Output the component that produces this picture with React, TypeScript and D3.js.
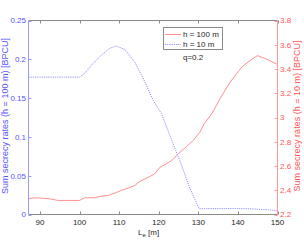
import React from "react";
import * as d3 from "d3";

const xTicks = [90, 100, 110, 120, 130, 140, 150];
const leftTicks = [0, 0.05, 0.1, 0.15, 0.2, 0.25];
const rightTicks = [2.2, 2.4, 2.6, 2.8, 3, 3.2, 3.4, 3.6, 3.8];

const blueX = [87.1, 100, 101.5, 103, 105.5, 107.6, 109.3, 111.4, 113.9, 116.5, 118.6, 120.7, 122.8, 125.3, 127.9, 130.2, 135, 140, 143, 147.7, 150];
const blueY = [0.177, 0.177, 0.183, 0.1925, 0.2054, 0.2141, 0.217, 0.2128, 0.1968, 0.171, 0.147, 0.13, 0.102, 0.0698, 0.0332, 0.0074, 0.0076, 0.0076, 0.0074, 0.006, 0.005];

const redX = [87.1, 88.6, 90, 92.4, 94.5, 97, 100, 101.3, 103.8, 105.1, 107.2, 108.9, 110.6, 112.5, 114, 115.2, 117, 119, 120.3, 121.5, 123.3, 125.4, 127, 128.7, 130.4, 131.5, 133.4, 135.5, 138, 141, 143.1, 144.9, 146.9, 149.8];
const redY = [2.33, 2.338, 2.335, 2.33, 2.316, 2.316, 2.316, 2.338, 2.338, 2.35, 2.357, 2.376, 2.4, 2.42, 2.44, 2.473, 2.5, 2.536, 2.59, 2.61, 2.646, 2.715, 2.76, 2.81, 2.88, 2.95, 3.03, 3.156, 3.29, 3.417, 3.47, 3.51, 3.487, 3.44];

const legendLabels = ["h = 100 m", "h = 10 m"];
const annotation = "q=0.2";

export default function App() {
  const W = 304, H = 243;
  const L = 28.5, R = 277.5, T = 20.5, B = 214.5;
  const x = d3.scaleLinear().domain([87.1, 150]).range([L, R]);
  const yL = d3.scaleLinear().domain([0, 0.25]).range([B, T]);
  const yR = d3.scaleLinear().domain([2.2, 3.8]).range([B, T]);

  const blueLine = d3.line<number>().x((_, i) => x(blueX[i])).y((d) => yL(d))(blueY) || "";
  const redLine = d3.line<number>().x((_, i) => x(redX[i])).y((d) => yR(d))(redY) || "";

  const font = "'Liberation Sans', Arial, Helvetica, sans-serif";
  const blueAxis = "#9a9aff", blueText = "#5555ff";
  const redAxis = "#ff9a9a", redText = "#ff5555";
  const blueLineC = "#9090ff", redLineC = "#ff9090";
  const gray = "#8a8a8a", dark = "#262626";
  const fmtL = (v: number) => String(+v.toFixed(2));
  const fmtR = (v: number) => String(+v.toFixed(1));

  return (
    <svg width={W} height={H} style={{ position: "absolute", left: 0, top: 0, background: "#fff" }} fontFamily={font}>
      <rect x={0} y={0} width={W} height={H} fill="#fff" />
      <path d={redLine} fill="none" stroke={redLineC} strokeWidth={1} />
      <path d={blueLine} fill="none" stroke={blueLineC} strokeWidth={1} strokeDasharray="1.2,1" />
      <line x1={L} x2={R} y1={T} y2={T} stroke={gray} strokeWidth={1} />
      <line x1={L} x2={R} y1={B} y2={B} stroke={gray} strokeWidth={1} />
      <line x1={L} x2={L} y1={T} y2={B} stroke={blueAxis} strokeWidth={1} />
      <line x1={R} x2={R} y1={T} y2={B} stroke={redAxis} strokeWidth={1} />
      {xTicks.map((t) => (
        <g key={"x" + t}>
          <line x1={Math.round(x(t)) + 0.5} x2={Math.round(x(t)) + 0.5} y1={B} y2={B - 3} stroke={gray} />
          <line x1={Math.round(x(t)) + 0.5} x2={Math.round(x(t)) + 0.5} y1={T} y2={T + 3} stroke={gray} />
          <text x={x(t)} y={225} fontSize={8} textAnchor="middle" fill={dark}>{t}</text>
        </g>
      ))}
      {leftTicks.map((t) => (
        <g key={"l" + t}>
          <line x1={L} x2={L + 3} y1={Math.round(yL(t)) + 0.5} y2={Math.round(yL(t)) + 0.5} stroke={blueAxis} />
          <text x={26} y={yL(t)} dy="0.35em" fontSize={8} textAnchor="end" fill={blueText}>{fmtL(t)}</text>
        </g>
      ))}
      {rightTicks.map((t) => (
        <g key={"r" + t}>
          <line x1={R} x2={R - 3} y1={Math.round(yR(t)) + 0.5} y2={Math.round(yR(t)) + 0.5} stroke={redAxis} />
          <text x={280} y={yR(t)} dy="0.35em" fontSize={8} textAnchor="start" fill={redText}>{fmtR(t)}</text>
        </g>
      ))}
      <text transform={`translate(7.5,${116}) rotate(-90)`} fontSize={9} textAnchor="middle" fill={blueText}>
        Sum secrecy rates (h = 100 m) [BPCU]
      </text>
      <text transform={`translate(300,${116}) rotate(-90)`} fontSize={9} textAnchor="middle" fill={redText}>
        Sum secrecy rates (h = 10 m) [BPCU]
      </text>
      <text x={138} y={234.5} fontSize={8} fill={dark}>
        L<tspan fontSize={6} dy={2.5}>e</tspan><tspan dy={-2.5}> [m]</tspan>
      </text>
      <rect x={163.5} y={27.5} width={59} height={22} fill="#fff" stroke={gray} strokeWidth={1} />
      <line x1={165} x2={181} y1={34.5} y2={34.5} stroke={redLineC} />
      <line x1={165} x2={181} y1={44.5} y2={44.5} stroke={blueLineC} strokeDasharray="1.2,1" />
      <text x={183} y={37.3} fontSize={8} fill={dark}>{legendLabels[0]}</text>
      <text x={183} y={47.3} fontSize={8} fill={dark}>{legendLabels[1]}</text>
      <text x={183} y={60} fontSize={8} fill={dark}>{annotation}</text>
    </svg>
  );
}
